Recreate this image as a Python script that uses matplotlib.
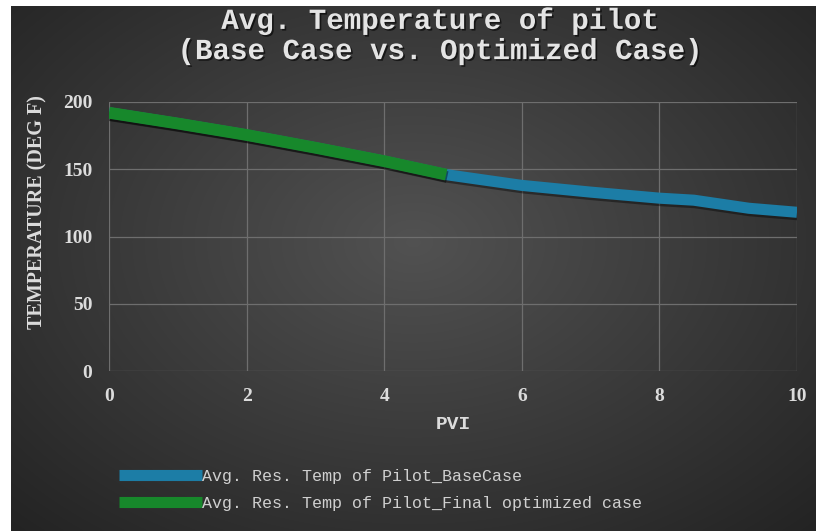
import numpy as np
import matplotlib
matplotlib.use("Agg")
from matplotlib import pyplot as plt
import matplotlib.patheffects as pe

# PVI vs. average reservoir temperature of the pilot
pvi_base = [0, 1, 2, 3, 4, 4.9, 6, 7, 8, 8.5, 9.3, 10]
temp_base = [192, 184, 175.5, 166, 156, 146, 138, 133, 128.5, 127, 121, 118]

pvi_opt = [0, 1, 2, 3, 4, 4.9]
temp_opt = [192, 184, 175.5, 166, 156, 146]

label_base = "Avg. Res. Temp of Pilot_BaseCase"
label_opt = "Avg. Res. Temp of Pilot_Final optimized case"

blue = "#1c7da6"
green = "#17882b"
txt = "#dcdcdc"

W, H = 816, 531
fig = plt.figure(figsize=(W / 100, H / 100), dpi=100)
fig.patch.set_facecolor("white")

# dark radial gradient behind everything
bg = fig.add_axes([11 / W, 0, 1 - 11 / W, 1 - 6 / H], zorder=-10)
yy, xx = np.mgrid[0:1:300j, 0:1:450j]
r = np.sqrt(((xx - 0.5) / 0.75) ** 2 + ((yy - 0.45) / 0.8) ** 2)
shade = np.clip(0.32 - 0.19 * r, 0.14, 0.32)
bg.imshow(np.dstack([shade] * 3), aspect="auto", extent=[0, 1, 0, 1], interpolation="bilinear")
bg.axis("off")

ax = fig.add_axes([109 / W, 1 - 371 / H, (797 - 109) / W, (371 - 102) / H])
ax.set_facecolor("none")
ax.set_xlim(0, 10)
ax.set_ylim(0, 200)
ax.set_xticks(range(0, 11, 2))
ax.set_yticks(range(0, 201, 50))
ax.grid(True, color="#6e6e6e", linewidth=0.9)
ax.set_axisbelow(True)
for s in ax.spines.values():
    s.set_visible(False)
ax.tick_params(length=0, colors=txt, pad=12)
for lab in ax.get_xticklabels() + ax.get_yticklabels():
    lab.set_fontfamily("Liberation Serif")
    lab.set_fontweight("bold")
    lab.set_fontsize(14)

shadow = [pe.SimpleLineShadow(offset=(0.8, -1.8), shadow_color="black", alpha=0.4), pe.Normal()]
ax.plot(pvi_base, temp_base, color=blue, lw=8, solid_capstyle="butt",
        label=label_base, path_effects=shadow, zorder=3)
ax.plot(pvi_opt, temp_opt, color=green, lw=8.5, solid_capstyle="butt",
        label=label_opt, path_effects=shadow, zorder=4)

ax.set_xlabel("PVI", family="Liberation Mono", fontweight="bold", fontsize=14,
              color=txt, labelpad=8)
ax.set_ylabel("TEMPERATURE (DEG F)", family="Liberation Serif", fontweight="bold",
              fontsize=14.5, color=txt)
ax.yaxis.set_label_coords(-0.09, 0.59)

fig.text(440 / W, 1 - 36 / H, "Avg. Temperature of pilot\n(Base Case vs. Optimized Case)",
         ha="center", va="center", family="Liberation Mono", fontweight="bold",
         fontsize=21, color="#e4e4e4", linespacing=1.1,
         path_effects=[pe.withSimplePatchShadow(offset=(1.2, -1.2), shadow_rgbFace="black", alpha=0.6)])

leg = fig.legend(loc="upper left", bbox_to_anchor=(112 / W, 1 - 462 / H), frameon=False,
                 prop={"family": "Liberation Mono", "size": 12}, handlelength=5.0,
                 handletextpad=0.0, labelspacing=0.75, borderaxespad=0)
for t in leg.get_texts():
    t.set_color("#d0d0d0")
for h in leg.get_lines():
    h.set_linewidth(8)
    h.set_path_effects([])

fig.savefig("out.png", dpi=100, facecolor=fig.get_facecolor())
